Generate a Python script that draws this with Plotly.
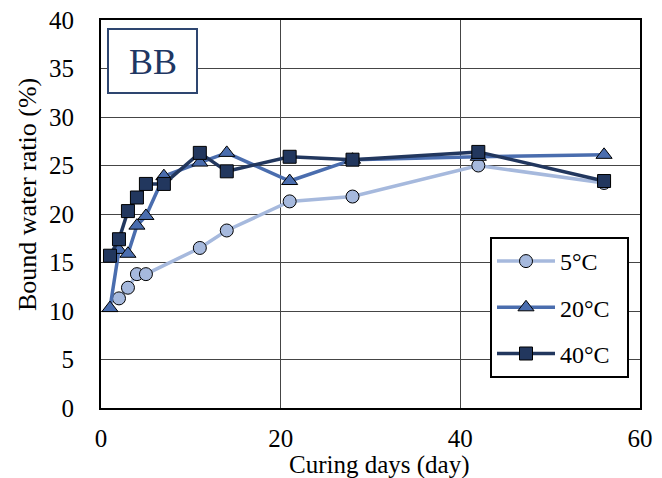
import plotly.graph_objects as go

days_5 = [2, 3, 4, 5, 11, 14, 21, 28, 42, 56]
vals_5 = [11.3, 12.4, 13.8, 13.8, 16.5, 18.3, 21.3, 21.8, 25.0, 23.2]

days_20 = [1, 2, 3, 4, 5, 7, 11, 14, 21, 28, 42, 56]
vals_20 = [10.3, 16.3, 15.9, 18.8, 19.8, 23.9, 25.3, 26.3, 23.4, 25.6, 25.9, 26.1]

days_40 = [1, 2, 3, 4, 5, 7, 11, 14, 21, 28, 42, 56]
vals_40 = [15.7, 17.4, 20.3, 21.7, 23.1, 23.1, 26.3, 24.4, 25.9, 25.6, 26.4, 23.4]

names = ["5°C", "20°C", "40°C"]
colors = ["#A6B9DD", "#4A6DAE", "#22375E"]
symbols = ["circle", "triangle-up", "square"]

x_ticks = [0, 20, 40, 60]
y_ticks = [0, 5, 10, 15, 20, 25, 30, 35, 40]

FONT = "Liberation Serif"

# page body has an 8px margin, so the figure is offset by 8px
W, H = 654, 470
PL, PR, PT, PB = 93, 632, 12, 400   # plot area in figure coordinates
PW, PH = PR - PL, PB - PT

def px(xp):
    return (xp - 8 - PL) / PW

def py(yp):
    return (PB - (yp - 8)) / PH

fig = go.Figure()
for i, (xs, ys) in enumerate([(days_5, vals_5), (days_20, vals_20), (days_40, vals_40)]):
    fig.add_trace(go.Scatter(
        x=xs, y=ys, mode="lines+markers", name=names[i] + "\u00a0\u00a0",
        legendgroup=names[i],
        line=dict(color=colors[i], width=3.5),
        marker=dict(symbol=symbols[i], size=13 if i != 1 else 14, color=colors[i],
                    line=dict(color="#000000", width=1)),
        cliponaxis=False,
    ))

tickfont = dict(family=FONT, size=25, color="black")

fig.update_layout(
    width=W, height=H,
    margin=dict(l=PL, r=W - PR, t=PT, b=H - PB, autoexpand=False),
    paper_bgcolor="white", plot_bgcolor="white",
    font=dict(family=FONT, size=24, color="black"),
    showlegend=True,
    legend=dict(
        x=px(490), y=py(237), xanchor="left", yanchor="top",
        bgcolor="white", bordercolor="black", borderwidth=2,
        font=dict(family=FONT, size=24, color="black"),
        traceorder="grouped", tracegroupgap=12,
        itemwidth=58,
    ),
    xaxis=dict(
        range=[0, 60], tickvals=x_ticks, ticktext=[str(v) for v in x_ticks],
        tickfont=tickfont,
        showgrid=True, gridcolor="#454545", gridwidth=1,
        showline=True, linecolor="black", linewidth=2, mirror=True,
        ticks="", zeroline=False, ticklabelstandoff=7, automargin=False,
        ticklabeloverflow="allow",
    ),
    yaxis=dict(
        range=[0, 40], tickvals=y_ticks, ticktext=[str(v) for v in y_ticks],
        tickfont=tickfont,
        showgrid=True, gridcolor="#454545", gridwidth=1,
        showline=True, linecolor="black", linewidth=2, mirror=True,
        ticks="", zeroline=False, ticklabelstandoff=20, automargin=False,
        ticklabeloverflow="allow",
    ),
)

# axis titles
fig.add_annotation(text="Curing days (day)", xref="paper", yref="paper",
                   x=px(379), y=py(465), xanchor="center", yanchor="middle",
                   showarrow=False, font=dict(family=FONT, size=25, color="black"))
fig.add_annotation(text="Bound water ratio (%)", xref="paper", yref="paper",
                   x=px(28), y=py(195), xanchor="center", yanchor="middle",
                   textangle=-90, showarrow=False,
                   font=dict(family=FONT, size=26, color="black"))

fig.add_shape(type="rect", xref="paper", yref="paper",
              x0=px(108), x1=px(197), y0=py(93), y1=py(29),
              line=dict(color="#2E4670", width=2), fillcolor="white", layer="above")
fig.add_annotation(text="BB", xref="paper", yref="paper",
                   x=px(152.5), y=py(62),
                   xanchor="center", yanchor="middle", showarrow=False,
                   font=dict(family=FONT, size=36, color="#1F3763"))

fig.write_html("out.html")
